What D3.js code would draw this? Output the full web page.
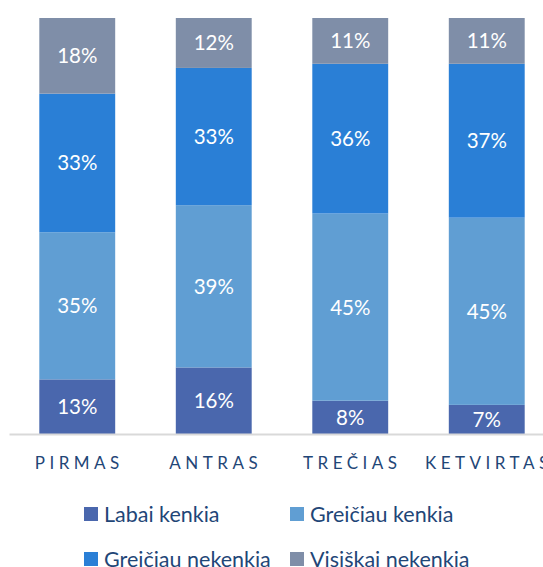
<!DOCTYPE html>
<html>
<head>
<meta charset="utf-8">
<script src="https://cdn.jsdelivr.net/npm/d3@7"></script>
<style>
    body { margin: 0; background: #fff; }
    svg { display: block; }
</style>
</head>
<body>
<script>
var categories = ["PIRMAS", "ANTRAS", "TREČIAS", "KETVIRTAS"];
var seriesNames = ["Labai kenkia", "Greičiau kenkia", "Greičiau nekenkia", "Visiškai nekenkia"];
var labaiKenkia = [13, 16, 8, 7];
var greiciauKenkia = [35, 39, 45, 45];
var greiciauNekenkia = [33, 33, 36, 37];
var visiskaiNekenkia = [18, 12, 11, 11];
var seriesColors = ["#4a67ad", "#609ed3", "#2a7fd6", "#7f8ea8"];

var width = 543;
var height = 567;
var fontFamily = "Lato, 'Open Sans', sans-serif";
var textColor = "#1f4677";

var seriesValues = [labaiKenkia, greiciauKenkia, greiciauNekenkia, visiskaiNekenkia];

// one row per category for d3.stack
var rows = categories.map(function(c, i) {
    var row = { cat: c };
    seriesNames.forEach(function(s, j) {
        row[s] = seriesValues[j][i];
    });
    return row;
});

var stacked = d3.stack()
    .keys(seriesNames)
    .offset(d3.stackOffsetExpand)(rows);

// x axis scale
var x = d3.scaleBand()
    .domain(categories)
    .range([9, 555])
    .paddingInner(0.444)
    .paddingOuter(0.222);

// y axis scale
var y = d3.scaleLinear()
    .domain([0, 1])
    .range([434, 18]);

var color = d3.scaleOrdinal()
    .domain(seriesNames)
    .range(seriesColors);

var svg = d3.select("body")
    .append("svg")
    .attr("width", width)
    .attr("height", height);

var layers = svg.append("g")
    .selectAll("g")
    .data(stacked)
    .enter()
    .append("g")
    .attr("fill", function(d) { return color(d.key); });

layers.selectAll("rect")
    .data(function(d) { return d; })
    .enter()
    .append("rect")
    .attr("x", function(d) { return x(d.data.cat); })
    .attr("y", function(d) { return y(d[1]); })
    .attr("width", x.bandwidth())
    .attr("height", function(d) { return y(d[0]) - y(d[1]); });

// value labels
layers.each(function(layer) {
    d3.select(this).selectAll("text")
        .data(layer)
        .enter()
        .append("text")
        .attr("x", function(d) { return x(d.data.cat) + x.bandwidth() / 2; })
        .attr("y", function(d) { return (y(d[0]) + y(d[1])) / 2; })
        .attr("dy", "0.36em")
        .attr("text-anchor", "middle")
        .attr("fill", "#fff")
        .style("font-family", fontFamily)
        .style("font-size", "20.5px")
        .text(function(d) { return d.data[layer.key] + "%"; });
});

// x axis
var xAxis = d3.axisBottom(x).tickSize(0);
var axisG = svg.append("g")
    .attr("transform", "translate(0,434)")
    .call(xAxis);

axisG.select(".domain")
    .attr("stroke", "#d9d9d9")
    .attr("stroke-width", 2);

axisG.selectAll("text")
    .attr("y", 35)
    .attr("dy", 0)
    .attr("dx", "2px")
    .attr("fill", textColor)
    .style("font-family", fontFamily)
    .style("font-size", "17px")
    .style("letter-spacing", "4.5px");

// legend
var legendPos = [[84, 514], [290, 514], [84, 559], [290, 559]];
var legend = svg.append("g")
    .selectAll("g")
    .data(seriesNames)
    .enter()
    .append("g")
    .attr("transform", function(d, i) {
        return "translate(" + legendPos[i][0] + "," + legendPos[i][1] + ")";
    });

legend.append("rect")
    .attr("x", 0)
    .attr("y", -7)
    .attr("width", 14)
    .attr("height", 14)
    .attr("fill", function(d) { return color(d); });

legend.append("text")
    .attr("x", 20)
    .attr("y", 0)
    .attr("dy", "0.35em")
    .attr("fill", textColor)
    .style("font-family", fontFamily)
    .style("font-size", "21.5px")
    .text(function(d) { return d; });
</script>
</body>
</html>
